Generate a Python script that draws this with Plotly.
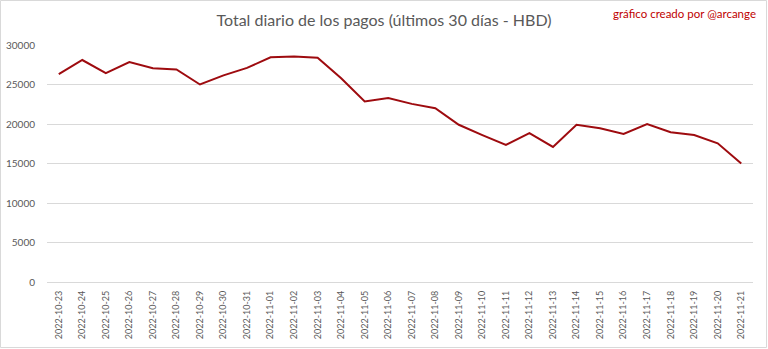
import plotly.graph_objects as go

dates = ["2022-10-23","2022-10-24","2022-10-25","2022-10-26","2022-10-27","2022-10-28",
         "2022-10-29","2022-10-30","2022-10-31","2022-11-01","2022-11-02","2022-11-03",
         "2022-11-04","2022-11-05","2022-11-06","2022-11-07","2022-11-08","2022-11-09",
         "2022-11-10","2022-11-11","2022-11-12","2022-11-13","2022-11-14","2022-11-15",
         "2022-11-16","2022-11-17","2022-11-18","2022-11-19","2022-11-20","2022-11-21"]
totals = [26300, 28100, 26450, 27850, 27050, 26900,
          25000, 26150, 27100, 28450, 28550, 28400,
          25800, 22850, 23300, 22550, 22000, 19900,
          18600, 17350, 18850, 17100, 19900, 19450,
          18750, 20000, 18950, 18600, 17550, 15000]
y_ticks = [0, 5000, 10000, 15000, 20000, 25000, 30000]

title_text = "Total diario de los pagos (últimos 30 días - HBD)"
credit_text = "gráfico creado por @arcange"

fig = go.Figure()
fig.add_trace(go.Scatter(
    x=dates, y=totals, mode="lines",
    line=dict(color="#9E0B0F", width=2),
    hoverinfo="x+y", showlegend=False,
))

W, H = 768, 349
ml, mr, mt, mb = 47, 15, 45, 67
pw, ph = W - ml - mr, H - mt - mb

fig.update_layout(
    width=W, height=H,
    margin=dict(l=ml, r=mr, t=mt, b=mb),
    paper_bgcolor="white", plot_bgcolor="white",
    font=dict(family="Lato, 'Open Sans', sans-serif", color="#595959"),
    title=dict(text=title_text, x=0.5, xanchor="center", y=1 - 20 / H, yanchor="middle",
               font=dict(size=16, color="#595959")),
    xaxis=dict(
        type="category", range=[-0.5, len(dates) - 0.5],
        tickangle=-90, showgrid=False, zeroline=False, automargin=False,
        showline=False, ticks="", tickfont=dict(size=9, color="#595959"),
        ticklabelstandoff=6,
    ),
    yaxis=dict(
        range=[0, 30000], tickvals=y_ticks, ticktext=[str(v) for v in y_ticks],
        showgrid=True, gridcolor="#D9D9D9", gridwidth=1, automargin=False,
        zeroline=True, zerolinecolor="#D9D9D9", zerolinewidth=1,
        showline=False, ticks="", tickfont=dict(size=10, color="#595959"),
        ticklabelstandoff=11,
    ),
    annotations=[dict(
        text=credit_text, xref="paper", yref="paper",
        x=(W - 10 - ml) / pw, y=1 + (mt - 13) / ph, xanchor="right", yanchor="middle",
        showarrow=False, font=dict(size=11.5, color="#C00000"),
    )],
    shapes=[dict(
        type="rect", xref="paper", yref="paper",
        x0=(0.5 - ml) / pw, x1=(W - 1.5 - ml) / pw,
        y0=-(mb - 1.5) / ph, y1=1 + (mt - 0.5) / ph,
        line=dict(color="#D9D9D9", width=1), fillcolor="rgba(0,0,0,0)", layer="below",
    )],
)

fig.write_html("out.html")
